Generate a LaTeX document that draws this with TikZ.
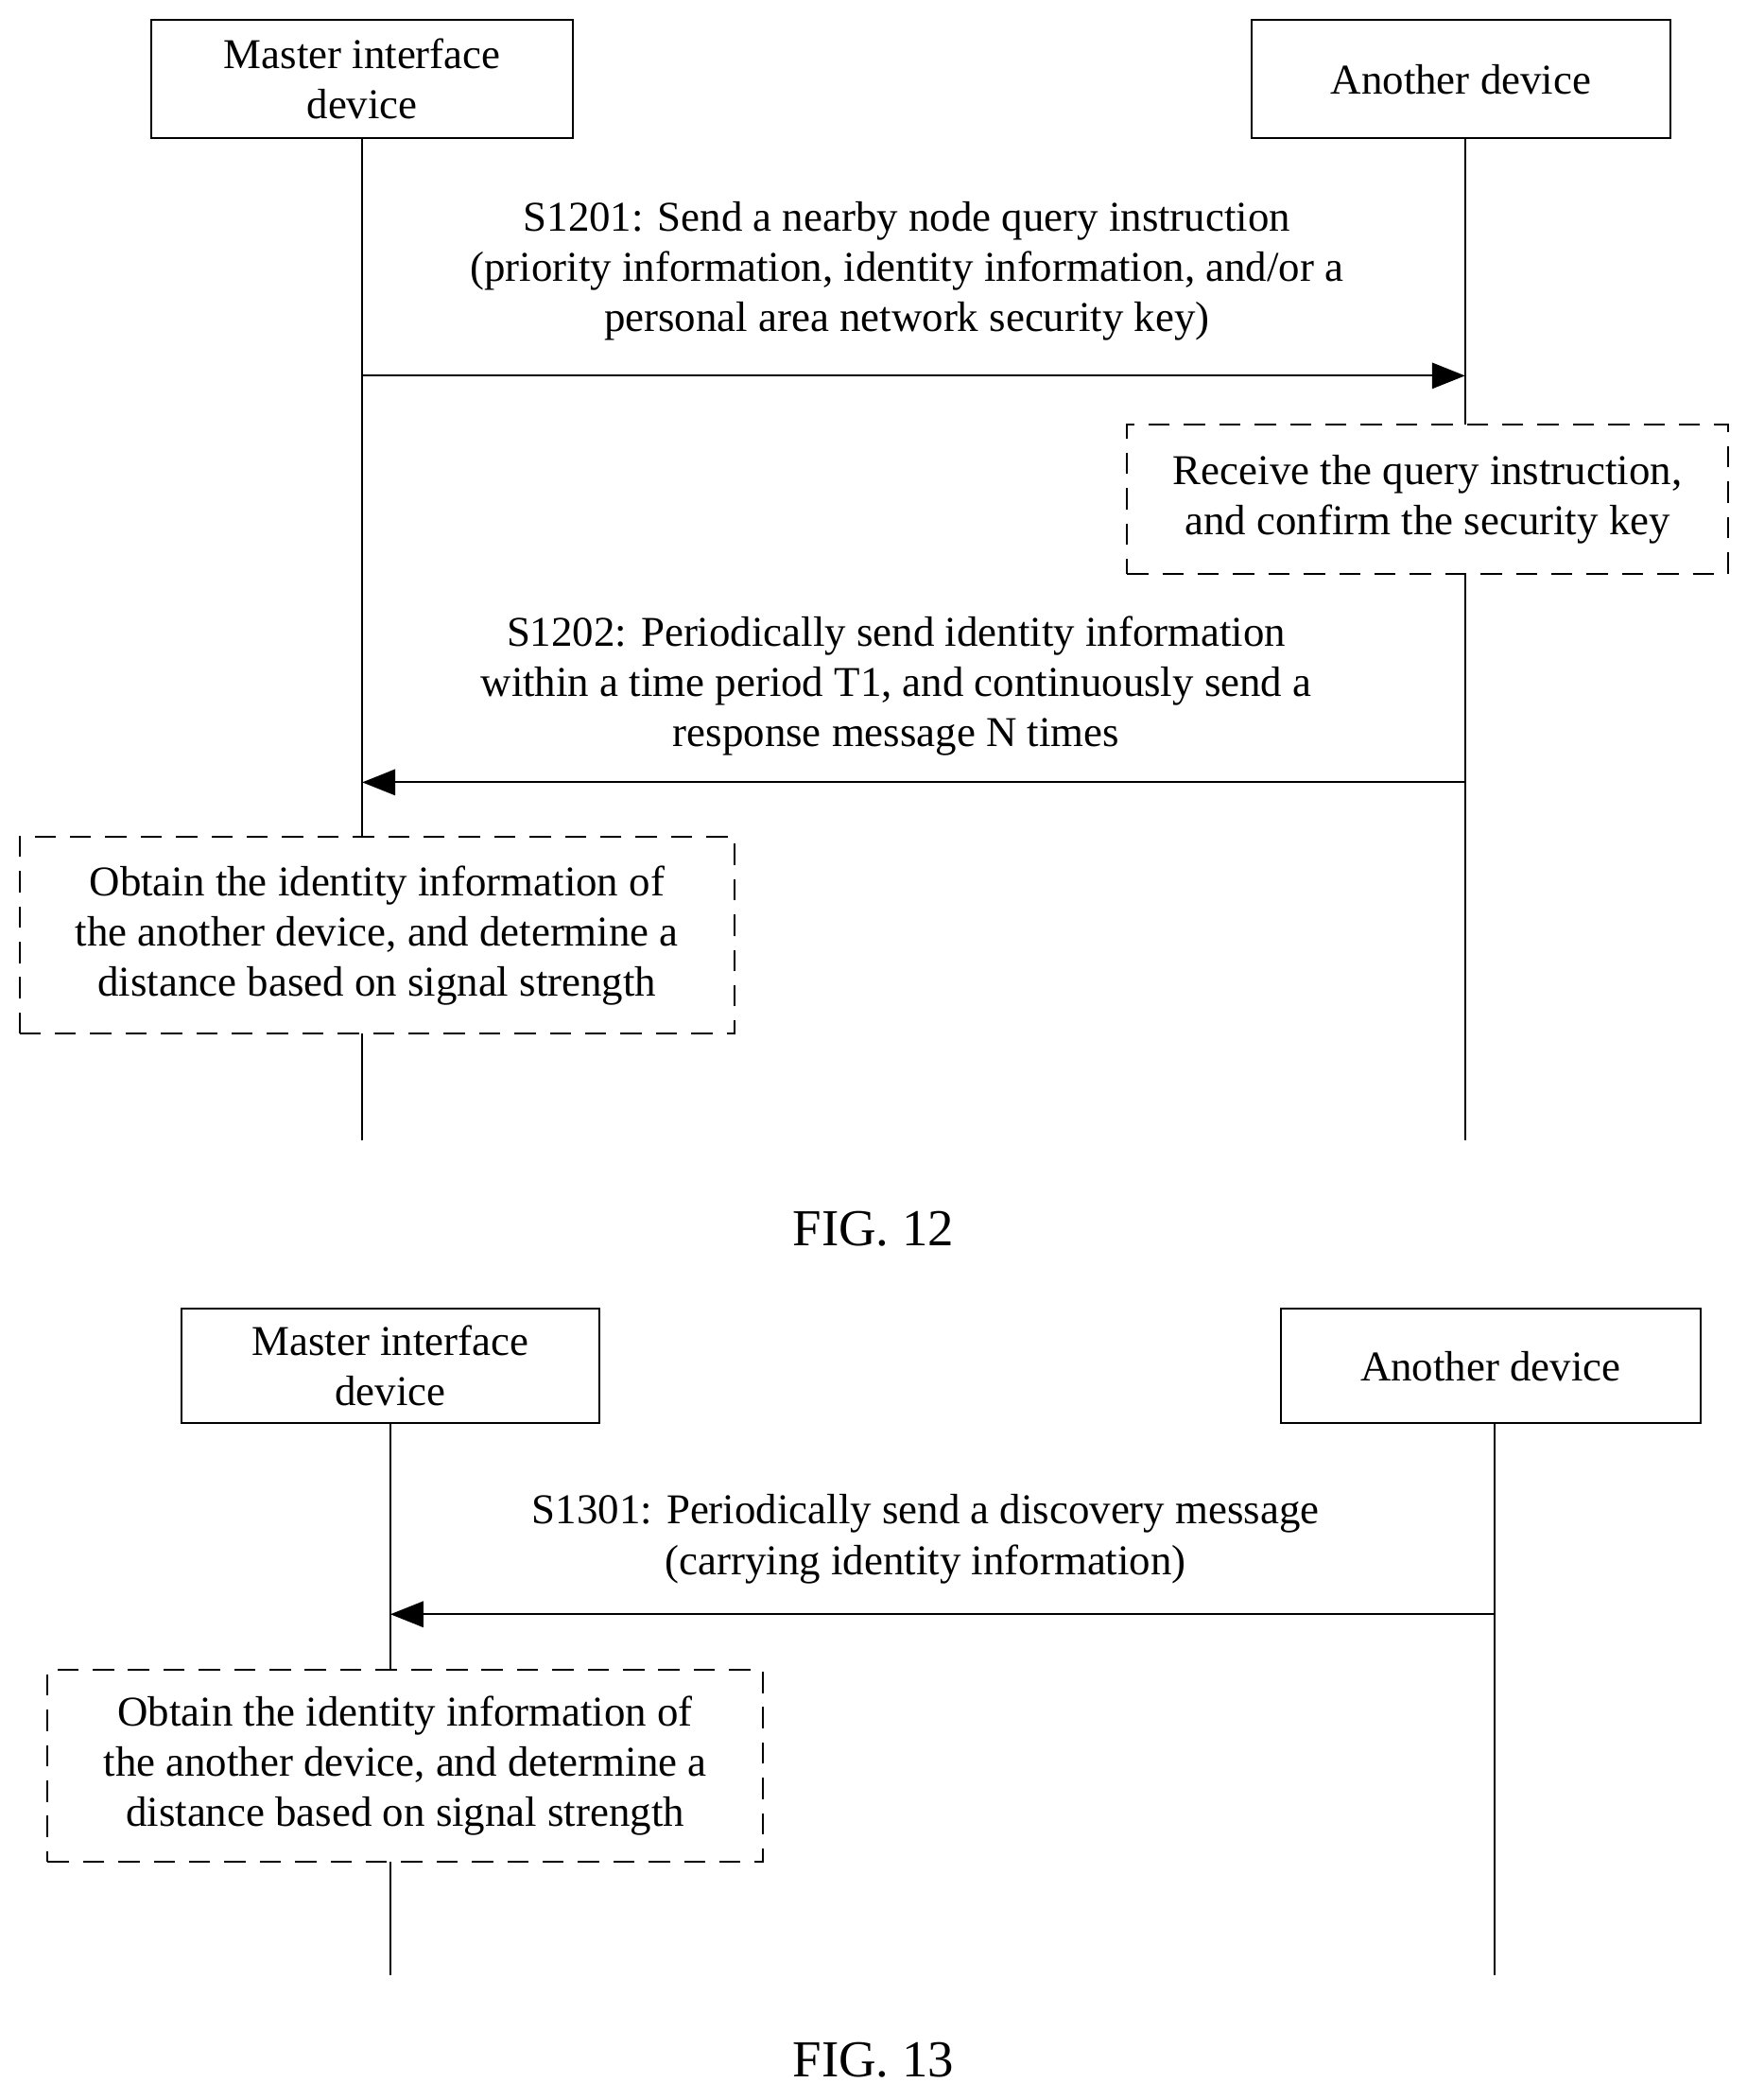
\documentclass[tikz,border=0pt]{standalone}
\usepackage{fontspec}
\setmainfont{Liberation Serif}
\usetikzlibrary{arrows.meta}
\begin{document}
\begin{tikzpicture}[x=0.02cm,y=-0.02cm,
  font=\fontsize{18}{21.3}\selectfont,
  box/.style={draw,thick,inner sep=0pt,align=center},
  dbox/.style={draw,thick,dash pattern=on 9pt off 6pt,inner sep=0pt,align=center,fill=white},
  life/.style={thick},
  msg/.style={thick,-{Triangle[length=14pt,width=11pt]}},
  lab/.style={align=center}]
\useasboundingbox (0,0) rectangle (1302,1565);
% FIG 12
\node[box,minimum width=314*0.02cm,minimum height=88*0.02cm] (m1) at (270,59) {Master interface\\device};
\node[box,minimum width=312*0.02cm,minimum height=88*0.02cm] (a1) at (1089,59) {Another device};
\coordinate (m1e) at (270,850); \coordinate (a1e) at (1092,850);
\draw[life] (270,103) -- (m1e);
\draw[life] (1092,103) -- (a1e);
\coordinate (p1s) at (270,280); \coordinate (p1e) at (1092,280);
\draw[msg] (p1s) -- (p1e);
\node[lab] (l1) at (676,202) {S1201: Send a nearby node query instruction\\(priority information, identity information, and/or a\\personal area network security key)};
\node[dbox,minimum width=448*0.02cm,minimum height=111*0.02cm] (r1) at (1064,372) {Receive the query instruction,\\and confirm the security key};
\coordinate (p2s) at (1092,583); \coordinate (p2e) at (270,583);
\draw[msg] (p2s) -- (p2e);
\node[lab] (l2) at (668,511) {S1202: Periodically send identity information\\within a time period T1, and continuously send a\\response message N times};
\node[dbox,minimum width=533*0.02cm,minimum height=147*0.02cm] (o1) at (281,697) {Obtain the identity information of\\the another device, and determine a\\distance based on signal strength};
\node (f12) at (651,916) {\fontsize{22}{26}\selectfont FIG. 12};
% FIG 13
\node[box,minimum width=312*0.02cm,minimum height=85*0.02cm] (m2) at (291,1018) {Master interface\\device};
\node[box,minimum width=313*0.02cm,minimum height=85*0.02cm] (a2) at (1111,1018) {Another device};
\coordinate (m2e) at (291,1472); \coordinate (a2e) at (1114,1472);
\draw[life] (291,1061) -- (m2e);
\draw[life] (1114,1061) -- (a2e);
\coordinate (p3s) at (1114,1203); \coordinate (p3e) at (291,1203);
\draw[msg] (p3s) -- (p3e);
\node[lab] (l3) at (690,1147) {S1301: Periodically send a discovery message\\(carrying identity information)};
\node[dbox,minimum width=533*0.02cm,minimum height=143*0.02cm] (o2) at (302,1316) {Obtain the identity information of\\the another device, and determine a\\distance based on signal strength};
\node (f13) at (651,1535) {\fontsize{22}{26}\selectfont FIG. 13};
\end{tikzpicture}
\end{document}
